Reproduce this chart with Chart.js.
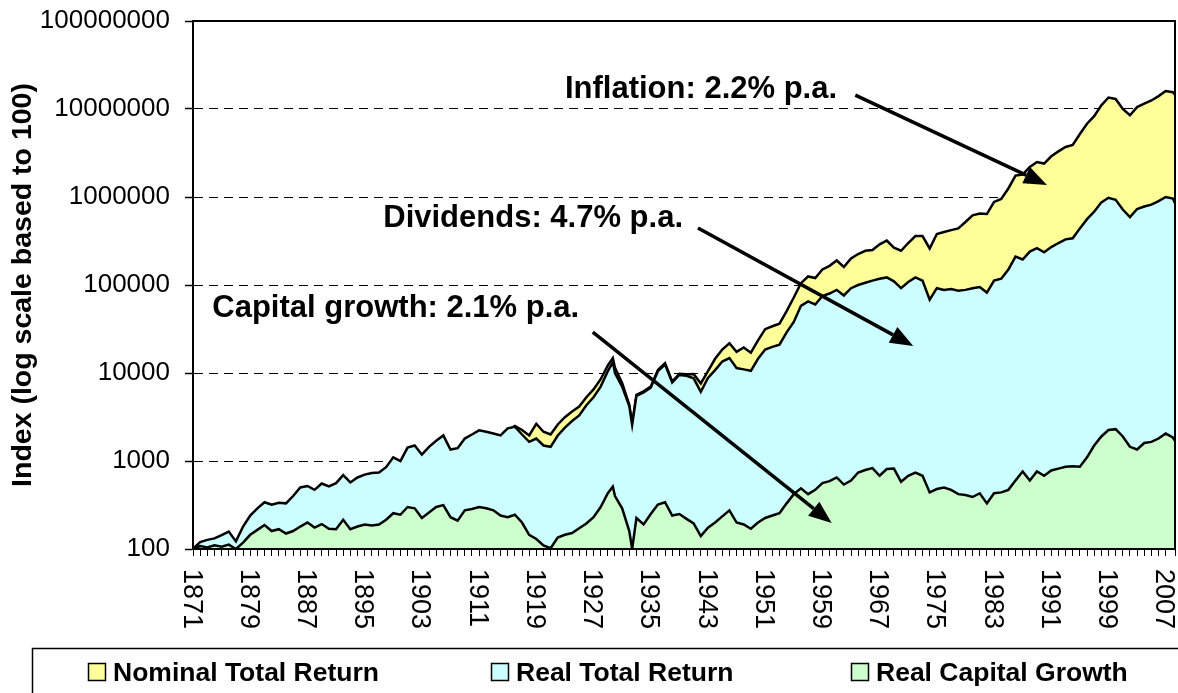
<!DOCTYPE html>
<html>
<head>
<meta charset="utf-8">
<title>Index (log scale based to 100)</title>
<script src="https://cdn.jsdelivr.net/npm/chart.js@4.4.1/dist/chart.umd.min.js"></script>
<style>
  html, body { margin: 0; padding: 0; background: #fff; }
  #wrap { width: 1178px; height: 693px; }
</style>
</head>
<body>
<div id="wrap"><canvas id="chart" width="1178" height="693"></canvas></div>
<script>
// ------------------------------------------------------------
// data (yearly, index based to 100 in 1871)
// ------------------------------------------------------------
const years = [
  1871, 1872, 1873, 1874, 1875, 1876, 1877, 1878, 1879, 1880,
  1881, 1882, 1883, 1884, 1885, 1886, 1887, 1888, 1889, 1890,
  1891, 1892, 1893, 1894, 1895, 1896, 1897, 1898, 1899, 1900,
  1901, 1902, 1903, 1904, 1905, 1906, 1907, 1908, 1909, 1910,
  1911, 1912, 1913, 1914, 1915, 1916, 1917, 1918, 1919, 1920,
  1921, 1922, 1923, 1924, 1925, 1926, 1927, 1928, 1929, 1929.7,
  1930, 1931, 1932, 1932.4, 1933, 1934, 1935, 1936, 1937, 1938,
  1939, 1940, 1941, 1942, 1943, 1944, 1945, 1946, 1947, 1948,
  1949, 1950, 1951, 1952, 1953, 1954, 1955, 1956, 1957, 1958,
  1959, 1960, 1961, 1962, 1963, 1964, 1965, 1966, 1967, 1968,
  1969, 1970, 1971, 1972, 1973, 1974, 1975, 1976, 1977, 1978,
  1979, 1980, 1981, 1982, 1983, 1984, 1985, 1986, 1987, 1988,
  1989, 1990, 1991, 1992, 1993, 1994, 1995, 1996, 1997, 1998,
  1999, 2000, 2001, 2002, 2003, 2004, 2005, 2006, 2007, 2008,
  2008.3
];

const nominalTotal = [
  100, 118, 121, 119, 127, 134, 100, 140, 182, 232,
  272, 254, 268, 264, 320, 400, 416, 376, 444, 412,
  448, 552, 456, 520, 560, 584, 592, 680, 880, 850,
  1210, 1290, 1020, 1250, 1470, 1700, 1190, 1240, 1600, 1800,
  2000, 1950, 1870, 1790, 2230, 2500, 2250, 1950, 2650, 2150,
  2000, 2600, 3150, 3650, 4150, 5300, 6500, 8500, 12200, 14800,
  11500, 7700, 4350, 2620, 5650, 6200, 7000, 10800, 12900, 8000,
  9800, 9700, 9750, 7600, 10500, 14500, 18500, 21800, 17400, 19500,
  17000, 23500, 31500, 34000, 36300, 50500, 72000, 105000, 125000, 120000,
  150000, 165000, 190000, 160000, 200000, 225000, 245000, 250000, 290000, 320000,
  265000, 245000, 300000, 360000, 360000, 260000, 380000, 400000, 420000, 440000,
  520000, 620000, 650000, 640000, 880000, 950000, 1250000, 1750000, 1800000, 2200000,
  2500000, 2400000, 2900000, 3300000, 3700000, 3900000, 5200000, 6800000, 8300000, 11000000,
  13500000, 13000000, 10000000, 8500000, 10500000, 11500000, 12500000, 14000000, 16000000, 15500000,
  14500000
];

const realTotal = [
  100, 120, 127, 132, 144, 158, 122, 180, 240, 290,
  340, 318, 335, 330, 400, 500, 520, 470, 555, 515,
  560, 690, 570, 650, 700, 730, 740, 850, 1100, 1000,
  1420, 1500, 1180, 1450, 1700, 1950, 1350, 1400, 1800, 2000,
  2230, 2150, 2050, 1950, 2350, 2450, 2000, 1650, 1800, 1500,
  1450, 1950, 2400, 2850, 3300, 4300, 5300, 7000, 10500, 13300,
  10000, 7000, 4200, 2580, 5500, 6000, 6800, 10500, 12500, 7800,
  9500, 9300, 8700, 6100, 8800, 10800, 13500, 14800, 11400, 11000,
  10600, 14500, 18500, 19800, 21000, 29000, 38000, 58000, 65000, 60000,
  75000, 80000, 88000, 76000, 92000, 100000, 106000, 112000, 118000, 122000,
  110000, 92000, 108000, 122000, 112000, 68000, 92000, 88000, 90000, 86000,
  88000, 92000, 95000, 82000, 112000, 118000, 150000, 210000, 195000, 240000,
  262000, 235000, 270000, 300000, 330000, 340000, 440000, 560000, 680000, 870000,
  980000, 930000, 720000, 590000, 730000, 780000, 820000, 900000, 1000000, 960000,
  850000
];

const realCapital = [
  100, 108, 104, 110, 106, 112, 100, 118, 145, 165,
  187, 160, 168, 150, 160, 180, 200, 175, 192, 170,
  168, 215, 168, 180, 190, 185, 190, 215, 255, 245,
  300, 290, 225, 260, 300, 315, 230, 210, 275, 285,
  300, 290, 275, 240, 230, 245, 200, 145, 130, 110,
  102, 135, 145, 152, 172, 195, 230, 300, 430, 510,
  400, 290, 160, 100, 225, 190, 250, 320, 340, 240,
  250, 220, 195, 140, 175, 200, 235, 275, 200, 190,
  170, 200, 225, 240, 255, 330, 420, 490, 420, 470,
  560, 590, 650, 540, 600, 740, 790, 830, 680, 810,
  820, 580, 680, 740, 680, 440, 480, 500, 470, 420,
  410, 390, 430, 330, 430, 440, 470, 600, 760, 600,
  760, 680, 780, 820, 860, 870, 860, 1100, 1500, 1900,
  2250, 2300, 1900, 1450, 1350, 1600, 1650, 1800, 2050, 1850,
  1700
];

const seriesNames = ['Nominal Total Return', 'Real Total Return', 'Real Capital Growth'];
const seriesColors = ['#ffff99', '#ccffff', '#ccffcc'];

const tickYears = [1871, 1879, 1887, 1895, 1903, 1911, 1919, 1927, 1935, 1943, 1951, 1959, 1967, 1975, 1983, 1991, 1999, 2007];
const yTicks = [100, 1000, 10000, 100000, 1000000, 10000000, 100000000];
const yTitle = 'Index (log scale based to 100)';

// annotations: text anchor and arrow in data space (year, index)
const notes = [
  { text: 'Inflation: 2.2% p.a.',      at: [1923.0, 1.334e7], from: [1963.6, 1.44e7], to: [1990.4, 1.37e6] },
  { text: 'Dividends: 4.7% p.a.',      at: [1897.6, 4.56e5],  from: [1941.6, 4.45e5], to: [1971.7, 2.03e4] },
  { text: 'Capital growth: 2.1% p.a.', at: [1873.7, 4.33e4],  from: [1926.9, 2.92e4], to: [1960.3, 197] }
];

// ------------------------------------------------------------
// helpers
// ------------------------------------------------------------
const FONT = '"Liberation Sans", Arial, Helvetica, sans-serif';

function toPoints(values) {
  return years.map((yr, i) => ({ x: yr, y: values[i] }));
}

function drawArrow(ctx, x1, y1, x2, y2) {
  const ang = Math.atan2(y2 - y1, x2 - x1);
  const head = 23, half = 9;
  const bx = x2 - head * Math.cos(ang);
  const by = y2 - head * Math.sin(ang);
  ctx.beginPath();
  ctx.moveTo(x1, y1);
  ctx.lineTo(bx, by);
  ctx.stroke();
  ctx.beginPath();
  ctx.moveTo(x2, y2);
  ctx.lineTo(bx + half * Math.sin(ang), by - half * Math.cos(ang));
  ctx.lineTo(bx - half * Math.sin(ang), by + half * Math.cos(ang));
  ctx.closePath();
  ctx.fill();
}

// frame, rotated year labels, arrows and the boxed legend
const overlay = {
  id: 'overlay',
  afterDatasetsDraw(chart) {
    const { ctx, chartArea: a } = chart;
    ctx.save();
    ctx.strokeStyle = '#000';
    ctx.lineWidth = 2;
    ctx.strokeRect(a.left, a.top, a.right - a.left, a.bottom - a.top);
    ctx.restore();
  },
  afterDraw(chart) {
    const { ctx, chartArea: a, scales: { x, y } } = chart;
    ctx.save();
    ctx.fillStyle = '#000';
    ctx.strokeStyle = '#000';

    // year labels, turned a quarter clockwise
    ctx.font = '27px ' + FONT;
    ctx.textAlign = 'left';
    ctx.textBaseline = 'middle';
    tickYears.forEach(yr => {
      ctx.save();
      ctx.translate(x.getPixelForValue(yr) - 2, a.bottom + 20);
      ctx.rotate(Math.PI / 2);
      ctx.fillText(String(yr), 0, 0);
      ctx.restore();
    });

    // annotations
    ctx.font = 'bold 31px ' + FONT;
    ctx.textBaseline = 'alphabetic';
    ctx.lineWidth = 3.5;
    notes.forEach(n => {
      ctx.fillText(n.text, x.getPixelForValue(n.at[0]), y.getPixelForValue(n.at[1]));
      drawArrow(ctx,
        x.getPixelForValue(n.from[0]), y.getPixelForValue(n.from[1]),
        x.getPixelForValue(n.to[0]), y.getPixelForValue(n.to[1]));
    });

    // legend box
    ctx.lineWidth = 1.5;
    ctx.strokeRect(32.5, 648.5, 1200, 100);
    const boxX = [88, 491, 851];
    ctx.font = 'bold 26.5px ' + FONT;
    seriesNames.forEach((name, i) => {
      ctx.fillStyle = seriesColors[i];
      ctx.fillRect(boxX[i], 663, 17, 17);
      ctx.lineWidth = 1.5;
      ctx.strokeRect(boxX[i] + 0.5, 663.5, 17, 17);
      ctx.fillStyle = '#000';
      ctx.fillText(name, boxX[i] + 25, 681);
    });
    ctx.restore();
  }
};

// ------------------------------------------------------------
// chart
// ------------------------------------------------------------
Chart.defaults.font.family = FONT;
Chart.defaults.color = '#000';

// first dataset is painted last, so the green area sits on top
const chart = new Chart(document.getElementById('chart'), {
  type: 'line',
  data: {
    datasets: [
      { label: seriesNames[2], data: toPoints(realCapital), backgroundColor: seriesColors[2] },
      { label: seriesNames[1], data: toPoints(realTotal), backgroundColor: seriesColors[1] },
      { label: seriesNames[0], data: toPoints(nominalTotal), backgroundColor: seriesColors[0] }
    ]
  },
  options: {
    responsive: false,
    animation: false,
    devicePixelRatio: 1,
    events: [],
    layout: { padding: { top: 21, right: 3, left: 0, bottom: 0 } },
    elements: {
      point: { radius: 0 },
      line: { tension: 0, borderWidth: 2.5, borderColor: '#000', fill: 'start' }
    },
    plugins: { legend: { display: false }, tooltip: { enabled: false } },
    scales: {
      x: {
        type: 'linear',
        min: 1871,
        max: 2008.3,
        ticks: { display: false, stepSize: 1 },
        grid: { drawOnChartArea: false, drawTicks: true, tickLength: 7, tickColor: '#000', tickWidth: 1 },
        border: { display: true, color: '#000', width: 2 },
        afterFit(s) { s.height = 144; s.paddingLeft = 0; s.paddingRight = 0; }
      },
      y: {
        type: 'logarithmic',
        min: 100,
        max: 100000000,
        afterBuildTicks(s) { s.ticks = yTicks.map(v => ({ value: v })); },
        ticks: { callback: v => String(v), font: { size: 26 }, color: '#000', padding: 15 },
        grid: { color: '#000', lineWidth: 1, tickLength: 8, tickColor: '#000', tickWidth: 1.5 },
        border: { display: true, color: '#000', width: 2, dash: [9, 6] },
        title: { display: true, text: yTitle, font: { size: 28.5, weight: 'bold' }, color: '#000', padding: { top: 6, bottom: 0 } },
        afterFit(s) { s.width = 193; s.paddingTop = 0; s.paddingBottom = 0; }
      }
    }
  },
  plugins: [overlay]
});
</script>
</body>
</html>
